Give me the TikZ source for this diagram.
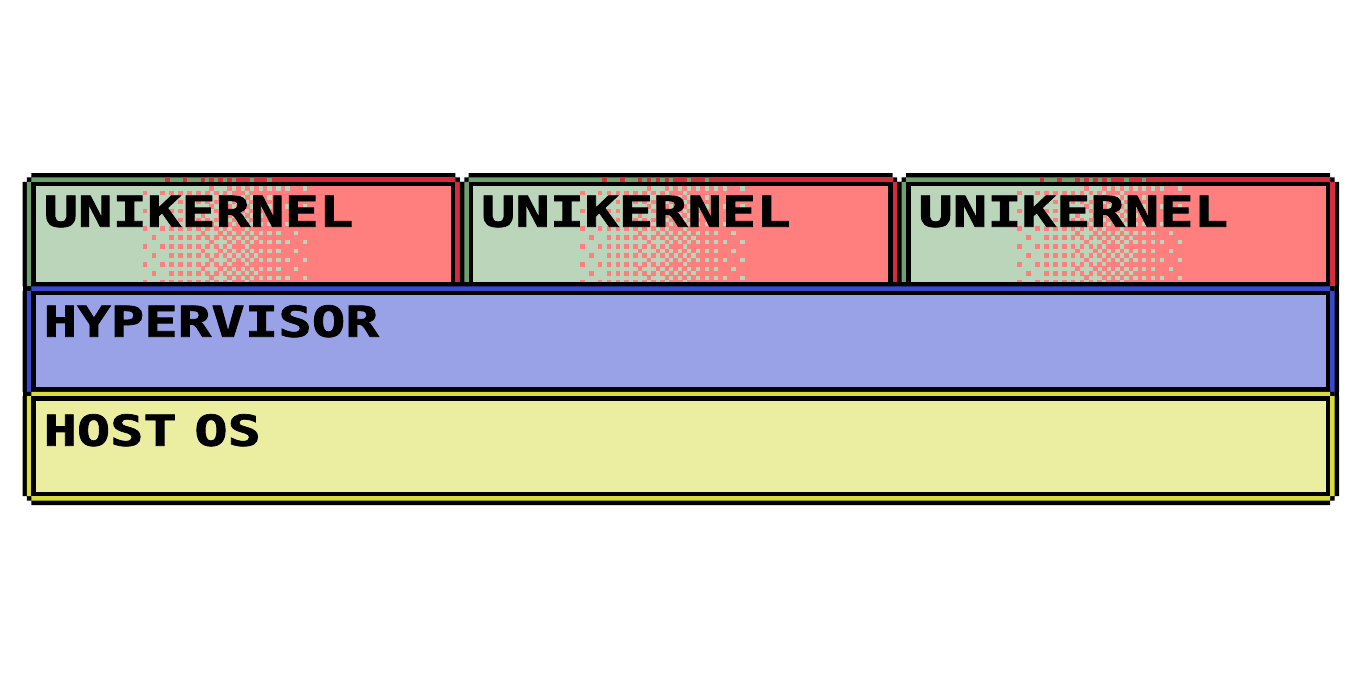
\documentclass[tikz,border=0pt]{standalone}
\usepackage{fontspec}
\usepackage{graphicx}
\newfontfamily\pixfont{DejaVu Sans Mono}[BoldFeatures={FakeBold=1.6}]
\definecolor{ugb}{HTML}{6FA06F}
\definecolor{ugf}{HTML}{BBD5BB}
\definecolor{urb}{HTML}{D42C3E}
\definecolor{urf}{HTML}{FF7F7F}
\definecolor{hbb}{HTML}{3A48CC}
\definecolor{hbf}{HTML}{99A2E6}
\definecolor{hyb}{HTML}{D9DD3C}
\definecolor{hyf}{HTML}{EBEEA1}
\def\pxu{4.45}
% pixel frame: x0 y0 x1 y1 bordercolour fillcolour
\newcommand\pixframe[6]{%
 \pgfmathsetmacro\pfxa{#1+\pxu}\pgfmathsetmacro\pfxb{#1+2*\pxu}\pgfmathsetmacro\pfxc{#1+3*\pxu}%
 \pgfmathsetmacro\pfXa{#3-\pxu}\pgfmathsetmacro\pfXb{#3-2*\pxu}\pgfmathsetmacro\pfXc{#3-3*\pxu}%
 \pgfmathsetmacro\pfya{#2+\pxu}\pgfmathsetmacro\pfyb{#2+2*\pxu}\pgfmathsetmacro\pfyc{#2+3*\pxu}%
 \pgfmathsetmacro\pfYa{#4-\pxu}\pgfmathsetmacro\pfYb{#4-2*\pxu}\pgfmathsetmacro\pfYc{#4-3*\pxu}%
 \fill[black] (\pfxb,#2) -- (\pfXb,#2) -- (\pfXb,\pfya) -- (\pfXa,\pfya) -- (\pfXa,\pfyb) -- (#3,\pfyb)
   -- (#3,\pfYb) -- (\pfXa,\pfYb) -- (\pfXa,\pfYa) -- (\pfXb,\pfYa) -- (\pfXb,#4) -- (\pfxb,#4)
   -- (\pfxb,\pfYa) -- (\pfxa,\pfYa) -- (\pfxa,\pfYb) -- (#1,\pfYb) -- (#1,\pfyb) -- (\pfxa,\pfyb)
   -- (\pfxa,\pfya) -- (\pfxb,\pfya) -- cycle;
 \fill[#5] (\pfxb,\pfya) -- (\pfXb,\pfya) -- (\pfXb,\pfyb) -- (\pfXa,\pfyb) -- (\pfXa,\pfYb)
   -- (\pfXb,\pfYb) -- (\pfXb,\pfYa) -- (\pfxb,\pfYa) -- (\pfxb,\pfYb) -- (\pfxa,\pfYb)
   -- (\pfxa,\pfyb) -- (\pfxb,\pfyb) -- cycle;
 \fill[black] (\pfxb,\pfyb) rectangle (\pfXb,\pfYb);
 \fill[#6] (\pfxc,\pfyc) rectangle (\pfXc,\pfYc);
}
% unikernel box with dithered green-to-red gradient: left x
\newcommand\unibox[1]{%
 \pgfmathsetmacro\ubL{#1}\pgfmathsetmacro\ubR{#1+441.8}%
 \pixframe{\ubL}{173}{\ubR}{295.35}{ugb}{ugf}%
 \fill[urb] ({\ubL+66*\pxu},\pfya) rectangle (\pfXb,\pfyb);
 \fill[urb] (\pfXb,\pfyb) rectangle (\pfXa,\pfYb);
 \foreach \k in {31,...,65}{%
   \pgfmathtruncatemacro\bidx{mod(\k,8)}%
   \pgfmathtruncatemacro\ok{{0,4,2,6,1,5,3,7}[\bidx] < 8*(\k-30)/36}%
   \ifnum\ok=1 \fill[urb] ({\ubL+\k*\pxu},\pfya) rectangle ({\ubL+(\k+1)*\pxu+0.2},\pfyb);\fi
 }%
 \fill[urf] ({\ubL+69*\pxu},\pfyc) rectangle (\pfXc,\pfYc);
 \foreach \i in {0,...,41}{\foreach \j in {0,...,21}{%
   \pgfmathtruncatemacro\bidx{4*mod(\j+3,4)+mod(\i,4)}%
   \pgfmathtruncatemacro\ok{{0,8,2,10,12,4,14,6,3,11,1,9,15,7,13,5}[\bidx] < 16*(\i+1)/43}%
   \ifnum\ok=1 \fill[urf] ({\ubL+(27+\i)*\pxu},{\pfyc+\j*\pxu}) rectangle ({\ubL+(28+\i)*\pxu+0.2},{min(\pfyc+(\j+1)*\pxu+0.2,\pfYc)});\fi
 }}%
}
\begin{document}
\begin{tikzpicture}[x=1pt,y=-1pt,
  lbl/.style={anchor=base west, inner sep=0pt, text=black,
    font=\pixfont\bfseries\fontsize{42.5}{44}\selectfont}]
\useasboundingbox (0,0) rectangle (1366,683);
\fill[white] (0,0) rectangle (1366,683);
% outer black side columns (show through the cut corners)
\fill[black] (22.5,{173+2*\pxu}) rectangle ({22.5+\pxu},{505-2*\pxu});
\fill[black] ({1339-\pxu},{173+2*\pxu}) rectangle (1339,{505-2*\pxu});
% unikernels
\unibox{22.5}
\unibox{459.8}
\unibox{897.2}
% hypervisor
\pixframe{22.5}{282}{1339}{400.65}{hbb}{hbf}
% host os
\pixframe{22.5}{387.3}{1339}{505}{hyb}{hyf}
% labels
\node[lbl] (u1) at (43.5,226.7) {\scalebox{1.345}[1]{UNIKERNEL}};
\node[lbl] (u2) at (480.8,226.7) {\scalebox{1.345}[1]{UNIKERNEL}};
\node[lbl] (u3) at (918.2,226.7) {\scalebox{1.345}[1]{UNIKERNEL}};
\node[lbl] (hyp) at (43.5,336.7) {\scalebox{1.31}[1]{HYPERVISOR}};
\node[lbl] (host) at (43.5,445.7) {\scalebox{1.3}[1]{HOST\hspace{-12pt} OS}};
\end{tikzpicture}
\end{document}
